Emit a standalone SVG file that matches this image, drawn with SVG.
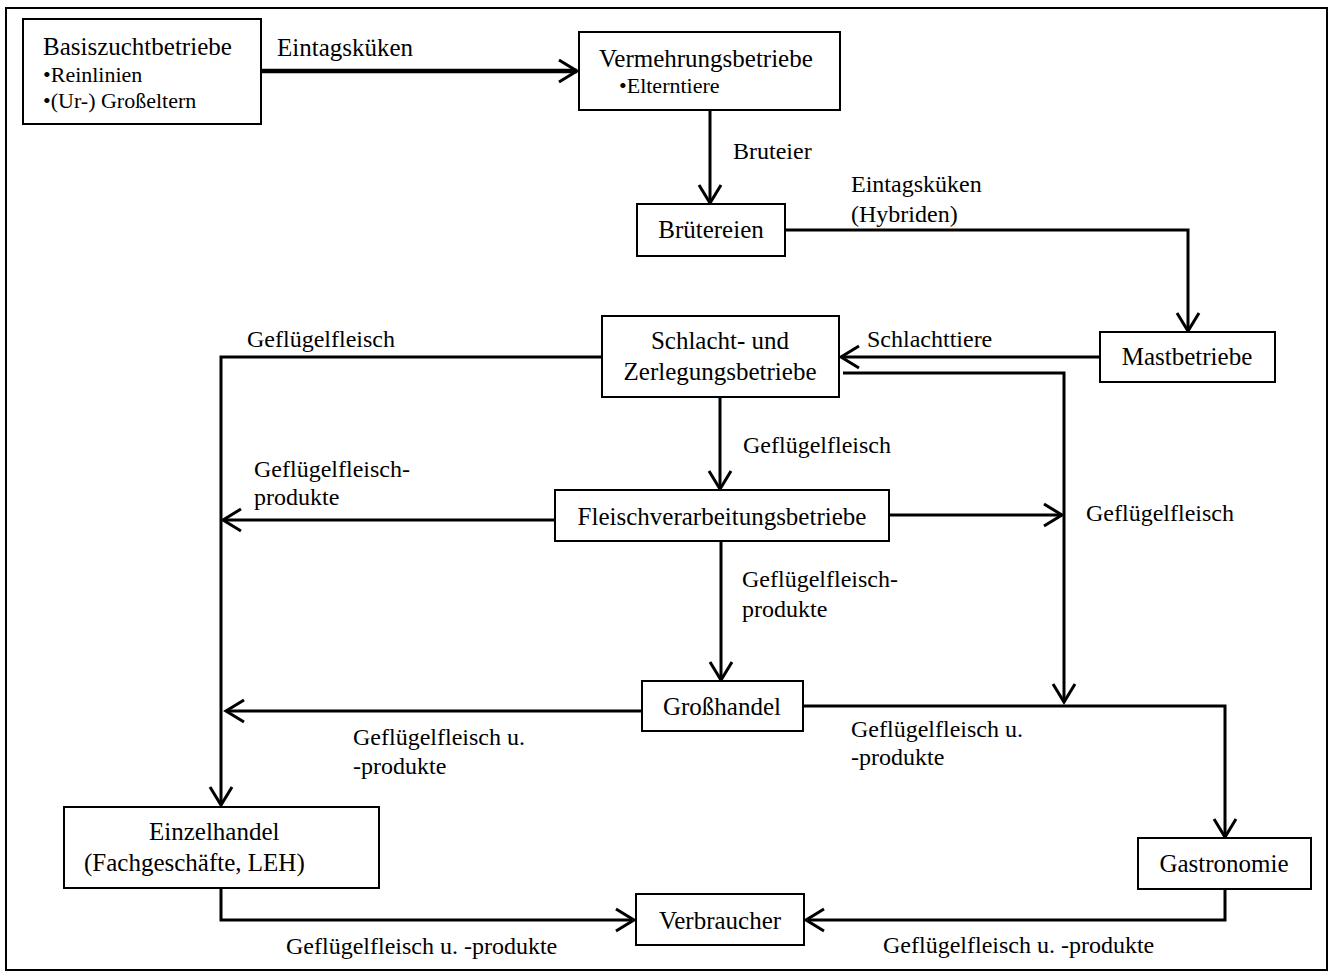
<svg xmlns="http://www.w3.org/2000/svg" width="1331" height="976" viewBox="0 0 1331 976">
<style>
.box{fill:#fff;stroke:#000;stroke-width:2}
.t{font-family:"Liberation Serif","Times New Roman",serif;font-size:25px;fill:#000}
.s{font-family:"Liberation Serif","Times New Roman",serif;font-size:22px;fill:#000}
.l{font-family:"Liberation Serif","Times New Roman",serif;font-size:24px;fill:#000}
.c{text-anchor:middle}
.ln{fill:none;stroke:#000;stroke-width:3}
</style>
<defs>
<marker id="arr" markerUnits="userSpaceOnUse" markerWidth="30" markerHeight="30" viewBox="-24 -15 30 30" refX="0" refY="0" orient="auto" overflow="visible">
<path d="M-18,-11 L0,0 L-18,11" fill="none" stroke="#000" stroke-width="3"/>
</marker>
</defs>
<rect x="0" y="0" width="1331" height="976" fill="#fff"/>
<rect x="6" y="8" width="1321" height="962" fill="none" stroke="#000" stroke-width="2"/>

<g id="connectors">
<line class="ln" x1="261" y1="71" x2="577" y2="71" style="stroke-width:4.5" marker-end="url(#arr)"/>
<line class="ln" x1="710" y1="110" x2="710" y2="203" marker-end="url(#arr)"/>
<polyline class="ln" points="785,230 1188,230 1188,331" marker-end="url(#arr)"/>
<line class="ln" x1="1100" y1="357" x2="841" y2="357" marker-end="url(#arr)"/>
<polyline class="ln" points="843,373 1064,373 1064,702" marker-end="url(#arr)"/>
<polyline class="ln" points="602,357 221,357 221,805" marker-end="url(#arr)"/>
<line class="ln" x1="720" y1="397" x2="720" y2="489" marker-end="url(#arr)"/>
<line class="ln" x1="555" y1="520" x2="223" y2="520" marker-end="url(#arr)"/>
<line class="ln" x1="889" y1="515" x2="1062" y2="515" marker-end="url(#arr)"/>
<line class="ln" x1="721" y1="541" x2="721" y2="680" marker-end="url(#arr)"/>
<line class="ln" x1="642" y1="711" x2="226" y2="711" marker-end="url(#arr)"/>
<polyline class="ln" points="803,706 1225,706 1225,837" marker-end="url(#arr)"/>
<polyline class="ln" points="1225,889 1225,920 806,920" marker-end="url(#arr)"/>
<polyline class="ln" points="221,888 221,920 634,920" marker-end="url(#arr)"/>
</g>

<g id="labels">
<text class="t" x="277" y="56">Eintagsküken</text>
<text class="l" x="733" y="159">Bruteier</text>
<text class="l" x="851" y="192">Eintagsküken</text>
<text class="l" x="851" y="222">(Hybriden)</text>
<text class="l" x="867" y="347">Schlachttiere</text>
<text class="l" x="247" y="347">Geflügelfleisch</text>
<text class="l" x="743" y="453">Geflügelfleisch</text>
<text class="l" x="254" y="477">Geflügelfleisch-</text>
<text class="l" x="254" y="505">produkte</text>
<text class="l" x="1086" y="521">Geflügelfleisch</text>
<text class="l" x="742" y="587">Geflügelfleisch-</text>
<text class="l" x="742" y="617">produkte</text>
<text class="l" x="353" y="745">Geflügelfleisch u.</text>
<text class="l" x="353" y="774">-produkte</text>
<text class="l" x="851" y="737">Geflügelfleisch u.</text>
<text class="l" x="851" y="765">-produkte</text>
<text class="l" x="286" y="954">Geflügelfleisch u. -produkte</text>
<text class="l" x="883" y="953">Geflügelfleisch u. -produkte</text>
</g>

<g id="basiszucht">
<rect class="box" x="23" y="19" width="238" height="105"/>
<text class="t" x="43" y="55">Basiszuchtbetriebe</text>
<text class="s" x="43" y="82">•Reinlinien</text>
<text class="s" x="43" y="108">•(Ur-) Großeltern</text>
</g>
<g id="vermehrung">
<rect class="box" x="579" y="32" width="261" height="78"/>
<text class="t" x="599" y="67">Vermehrungsbetriebe</text>
<text class="s" x="619" y="93">•Elterntiere</text>
</g>
<g id="bruetereien">
<rect class="box" x="637" y="204" width="148" height="52"/>
<text class="t c" x="711" y="238">Brütereien</text>
</g>
<g id="mast">
<rect class="box" x="1100" y="332" width="175" height="50"/>
<text class="t c" x="1187" y="365">Mastbetriebe</text>
</g>
<g id="schlacht">
<rect class="box" x="602" y="316" width="237" height="81"/>
<text class="t c" x="720" y="349">Schlacht- und</text>
<text class="t c" x="720" y="380">Zerlegungsbetriebe</text>
</g>
<g id="fleisch">
<rect class="box" x="555" y="490" width="334" height="51"/>
<text class="t c" x="722" y="525">Fleischverarbeitungsbetriebe</text>
</g>
<g id="grosshandel">
<rect class="box" x="642" y="681" width="161" height="50"/>
<text class="t c" x="722" y="715">Großhandel</text>
</g>
<g id="einzelhandel">
<rect class="box" x="64" y="807" width="315" height="81"/>
<text class="t" x="149" y="840">Einzelhandel</text>
<text class="t" x="84" y="871">(Fachgeschäfte, LEH)</text>
</g>
<g id="gastronomie">
<rect class="box" x="1138" y="838" width="173" height="51"/>
<text class="t c" x="1224" y="872">Gastronomie</text>
</g>
<g id="verbraucher">
<rect class="box" x="636" y="894" width="168" height="51"/>
<text class="t c" x="720" y="929">Verbraucher</text>
</g>
</svg>
